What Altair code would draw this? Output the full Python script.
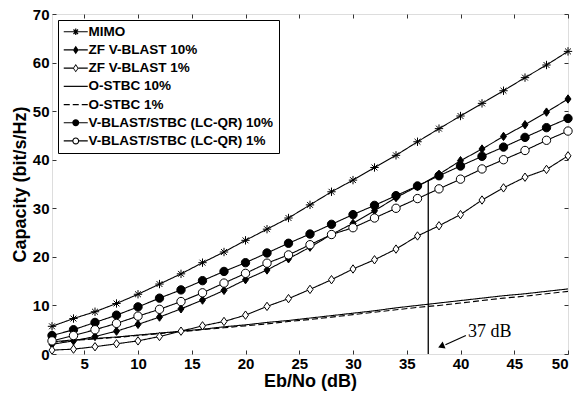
import altair as alt
import pandas as pd

# ---------------- data ----------------
ebno = [2, 4, 6, 8, 10, 12, 14, 16, 18, 20, 22, 24, 26, 28, 30, 32, 34, 36, 38, 40, 42, 44, 46, 48, 50]

mimo = [5.7, 7.3, 8.7, 10.4, 12.3, 14.4, 16.5, 18.8, 21.0, 23.4, 25.7, 28.0, 30.7, 33.4, 35.8,
        38.4, 40.9, 43.7, 46.4, 49.0, 51.6, 54.2, 56.9, 59.5, 62.3]
zf10 = [2.0, 2.7, 3.6, 4.7, 6.1, 7.6, 9.3, 11.1, 13.1, 15.3, 17.3, 19.6, 22.0, 24.6, 26.9,
        29.5, 32.2, 34.5, 37.0, 39.8, 42.2, 44.8, 47.2, 49.8, 52.5]
zf1 = [0.8, 1.0, 1.5, 2.1, 2.7, 3.6, 4.7, 5.8, 6.7, 8.0, 9.8, 11.4, 13.3, 15.3, 17.5,
       19.4, 21.6, 24.3, 26.4, 28.7, 31.7, 34.2, 36.4, 38.0, 40.8]
ostbc10 = [2.5, 2.9, 3.2, 3.5, 3.9, 4.3, 4.7, 5.1, 5.6, 6.0, 6.5, 6.9, 7.4, 7.9, 8.4,
           8.9, 9.5, 10.0, 10.5, 11.0, 11.5, 12.0, 12.4, 12.9, 13.4]
ostbc1 = [2.4, 2.8, 3.1, 3.4, 3.8, 4.2, 4.6, 5.0, 5.4, 5.8, 6.2, 6.7, 7.1, 7.6, 8.1,
          8.6, 9.1, 9.6, 10.0, 10.5, 11.0, 11.5, 11.9, 12.4, 12.9]
lc10 = [3.8, 5.0, 6.5, 8.0, 9.7, 11.5, 13.2, 15.1, 17.0, 18.8, 20.8, 22.8, 24.7, 26.7, 28.7,
        30.6, 32.6, 34.6, 36.7, 38.7, 40.7, 42.6, 44.6, 46.6, 48.5]
lc1 = [2.7, 3.8, 5.0, 6.3, 7.8, 9.2, 10.8, 12.6, 14.6, 16.6, 18.7, 20.4, 22.5, 24.6, 26.0,
       28.0, 30.0, 32.0, 34.0, 36.0, 38.1, 40.0, 41.9, 44.0, 45.9]

series_names = ["MIMO", "ZF V-BLAST 10%", "ZF V-BLAST 1%", "O-STBC 10%", "O-STBC 1%",
                "V-BLAST/STBC (LC-QR) 10%", "V-BLAST/STBC (LC-QR) 1%"]
series_values = [mimo, zf10, zf1, ostbc10, ostbc1, lc10, lc1]

x_ticks = [5, 10, 15, 20, 25, 30, 35, 40, 45, 50]
y_ticks = [0, 10, 20, 30, 40, 50, 60, 70]

# annotation (37 dB crossover)
cross_x = [37]
cross_y0 = [0]
cross_y1 = [35.7]
label_x = [40.7]
label_y = [4.6]
label_text = ["37 dB"]
arrow_x1 = [40.5]
arrow_y1 = [3.8]
arrow_x2 = [38.6]
arrow_y2 = [1.9]
head_x = [38.2]
head_y = [1.6]

# ---------------- tables ----------------
rows = []
for name, vals in zip(series_names, series_values):
    for xv, v in zip(ebno, vals):
        rows.append({"ebno": xv, "cap": v, "series": name})
df = pd.DataFrame(rows)

marker_series = ["MIMO", "ZF V-BLAST 10%", "ZF V-BLAST 1%",
                 "V-BLAST/STBC (LC-QR) 10%", "V-BLAST/STBC (LC-QR) 1%"]
df_pts = df[df["series"].isin(marker_series)]

ASTER = "M-1,0L1,0M0,-1L0,1M-0.7,-0.7L0.7,0.7M-0.7,0.7L0.7,-0.7"
DIAM = "M0,-1L0.72,0L0,1L-0.72,0Z"
marker_paths = [ASTER, DIAM, DIAM, "circle", "circle"]
marker_fills = ["transparent", "black", "white", "black", "white"]

# legend symbols drawn as filled outlines (unit = 6 px, sample from -1 to 3, marker at 1)
def rect(x0, x1):
    return f"M{x0},-0.1L{x1},-0.1L{x1},0.1L{x0},0.1Z"

L_ASTER = (rect(-1, 3) + "M0.9,-0.55L1.1,-0.55L1.1,0.55L0.9,0.55Z"
           "M0.69,-0.45L1.45,0.31L1.31,0.45L0.55,-0.31Z"
           "M0.55,0.31L1.31,-0.45L1.45,-0.31L0.69,0.45Z")
L_DIAM_F = rect(-1, 0.55) + rect(1.45, 3) + "M1,-0.7L1.48,0L1,0.7L0.52,0Z"
L_DIAM_O = (rect(-1, 0.55) + rect(1.45, 3) + "M1,-0.7L1.48,0L1,0.7L0.52,0Z"
            "M1,-0.46L0.69,0L1,0.46L1.31,0Z")
L_SOLID = rect(-1, 3)
L_DASH = rect(-1, 0) + rect(0.5, 1.5) + rect(2, 3)
L_CIRC_F = (rect(-1, 0.45) + rect(1.55, 3) +
            "M1.58,0A0.58,0.58,0,1,1,0.42,0A0.58,0.58,0,1,1,1.58,0Z")
L_CIRC_O = (rect(-1, 0.45) + rect(1.55, 3) +
            "M1.58,0A0.58,0.58,0,1,1,0.42,0A0.58,0.58,0,1,1,1.58,0Z"
            "M1.39,0A0.39,0.39,0,1,0,0.61,0A0.39,0.39,0,1,0,1.39,0Z")
legend_paths = [L_ASTER, L_DIAM_F, L_DIAM_O, L_SOLID, L_DASH, L_CIRC_F, L_CIRC_O]
legend_fills = ["black"] * 7
dashes = [[1, 0], [1, 0], [1, 0], [1, 0], [6, 3], [1, 0], [1, 0]]

FONT = "Liberation Sans"
xs = alt.Scale(domain=[2, 50], nice=False, zero=False)
ys = alt.Scale(domain=[0, 70], nice=False)

main_x_axis = alt.Axis(values=x_ticks, orient="bottom", offset=-4, tickSize=4, domain=False,
                       grid=False, labelPadding=2, labelFont=FONT, labelFontSize=15,
                       labelFontWeight="bold", labelColor="black", tickColor="#333",
                       titleFont=FONT, titleFontSize=18, titleFontWeight="bold",
                       titleColor="black", titlePadding=1)
main_y_axis = alt.Axis(values=y_ticks, orient="left", offset=-4, tickSize=4, domain=False,
                       grid=False, labelPadding=3, labelFont=FONT, labelFontSize=15,
                       labelFontWeight="bold", labelColor="black", tickColor="#333",
                       titleFont=FONT, titleFontSize=18, titleFontWeight="bold",
                       titleColor="black", titlePadding=3)
top_axis = alt.Axis(values=x_ticks, orient="top", offset=-4, tickSize=4, domain=False,
                    grid=False, labels=False, title=None, tickColor="#333")
right_axis = alt.Axis(values=y_ticks, orient="right", offset=-4, tickSize=4, domain=False,
                      grid=False, labels=False, title=None, tickColor="#333")

lines = alt.Chart(df).mark_line(color="black", strokeWidth=1.1).encode(
    x=alt.X("ebno:Q", scale=xs, axis=main_x_axis, title="Eb/No (dB)"),
    y=alt.Y("cap:Q", scale=ys, axis=main_y_axis, title="Capacity (bit/s/Hz)"),
    strokeDash=alt.StrokeDash("series:N", scale=alt.Scale(domain=series_names, range=dashes),
                              legend=None),
)

points = alt.Chart(df_pts).mark_point(opacity=1, size=70, strokeWidth=1, color="black").encode(
    x=alt.X("ebno:Q", scale=xs, axis=top_axis),
    y=alt.Y("cap:Q", scale=ys, axis=right_axis),
    shape=alt.Shape("series:N", scale=alt.Scale(domain=marker_series, range=marker_paths),
                    legend=None),
    fill=alt.Fill("series:N", scale=alt.Scale(domain=marker_series, range=marker_fills),
                  legend=None),
)

cross_df = pd.DataFrame({"x": cross_x, "y0": cross_y0, "y1": cross_y1})
rule = alt.Chart(cross_df).mark_rule(color="black", strokeWidth=1.3).encode(
    x=alt.X("x:Q", scale=xs, axis=None),
    y=alt.Y("y0:Q", scale=ys, axis=None),
    y2="y1:Q",
)

arrow_df = pd.DataFrame({"x1": arrow_x1, "y1": arrow_y1, "x2": arrow_x2, "y2": arrow_y2})
arrow = alt.Chart(arrow_df).mark_rule(color="black", strokeWidth=1.2).encode(
    x=alt.X("x1:Q", scale=xs, axis=None),
    y=alt.Y("y1:Q", scale=ys, axis=None),
    x2="x2:Q",
    y2="y2:Q",
)

head_df = pd.DataFrame({"x": head_x, "y": head_y})
head = alt.Chart(head_df).mark_point(shape="triangle-up", filled=True, color="black",
                                     opacity=1, size=55, angle=247).encode(
    x=alt.X("x:Q", scale=xs, axis=None),
    y=alt.Y("y:Q", scale=ys, axis=None),
)

text_df = pd.DataFrame({"x": label_x, "y": label_y, "t": label_text})
text = alt.Chart(text_df).mark_text(font="Liberation Serif", fontSize=18, align="left",
                                    baseline="middle", color="black").encode(
    x=alt.X("x:Q", scale=xs, axis=None),
    y=alt.Y("y:Q", scale=ys, axis=None),
    text="t:N",
)

leg = alt.Legend(title=None, orient="top-left", offset=6, padding=5, rowPadding=3.2,
                 labelFont=FONT, labelFontSize=13.5, labelFontWeight="bold",
                 labelColor="black", labelLimit=400, labelOffset=12, symbolSize=144,
                 symbolStrokeColor="transparent", symbolStrokeWidth=0, symbolOpacity=1,
                 strokeColor="black", fillColor="white", cornerRadius=0)

legend_layer = alt.Chart(df).transform_filter("false").mark_point(
    opacity=1, filled=True, strokeWidth=0).encode(
    x=alt.X("ebno:Q", scale=xs, axis=None),
    y=alt.Y("cap:Q", scale=ys, axis=None),
    shape=alt.Shape("series:N", scale=alt.Scale(domain=series_names, range=legend_paths),
                    legend=leg),
    fill=alt.Fill("series:N", scale=alt.Scale(domain=series_names, range=legend_fills),
                  legend=leg),
)

chart = alt.layer(lines, points, rule, arrow, head, text, legend_layer).resolve_scale(
    shape="independent", fill="independent"
).resolve_axis(
    x="independent", y="independent"
).properties(
    width=516, height=340,
    autosize=alt.AutoSizeParams(type="none"),
    padding={"left": 52, "top": 14, "right": 15, "bottom": 40},
).configure_view(stroke="#333", strokeWidth=1.5).configure(background="white")

chart.save("out.html", embed_options={"renderer": "svg", "actions": False})
